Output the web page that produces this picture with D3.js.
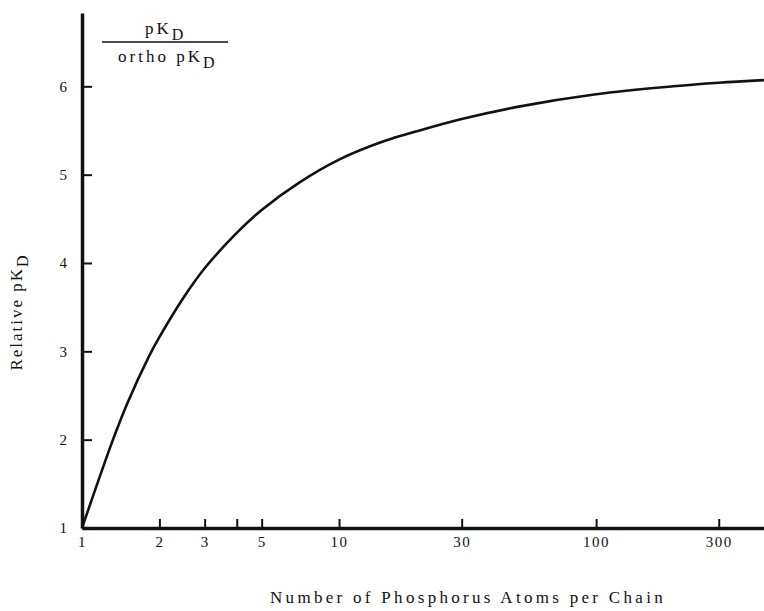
<!DOCTYPE html>
<html>
<head>
<meta charset="utf-8">
<script src="https://cdn.jsdelivr.net/npm/d3@7"></script>
<style>
  body { margin: 0; background: #fff; }
  svg { display: block; }
  text { font-family: "Liberation Serif", "DejaVu Serif", serif; fill: #111; }
</style>
</head>
<body>
<script>
// Data
const phosphorusAtoms = [1, 1.32, 1.5, 1.82, 2, 2.5, 3, 4, 5, 7, 10, 15, 20, 30, 50, 100, 200, 300, 450];
const relativePKD    = [1.0, 2.0, 2.41, 2.94, 3.16, 3.62, 3.94, 4.34, 4.6, 4.91, 5.17, 5.38, 5.49, 5.63, 5.77, 5.91, 6.0, 6.04, 6.07];
const xTickValues = [1, 2, 3, 4, 5, 10, 30, 100, 300];
const xTickLabels = ["1", "2", "3", "", "5", "10", "30", "100", "300"];
const yTickValues = [1, 2, 3, 4, 5, 6];

const W = 764, H = 611;
const svg = d3.select("body").append("svg").attr("width", W).attr("height", H);

const x = d3.scaleLog().domain([1, 450]).range([82, 764]);
const y = d3.scaleLinear().domain([1, 6.83]).range([528, 13]);

// X axis
const xAxis = d3.axisBottom(x)
  .tickValues(xTickValues)
  .tickFormat((d, i) => xTickLabels[i])
  .tickSize(-9).tickSizeOuter(0).tickPadding(8);
const gx = svg.append("g").attr("transform", `translate(0,${y(1)})`).call(xAxis);
gx.select(".domain").attr("stroke", "#111").attr("stroke-width", 3.5);
gx.selectAll(".tick line").attr("stroke", "#111").attr("stroke-width", 2);
gx.selectAll(".tick text").attr("font-size", 15).attr("letter-spacing", 1.5)
  .attr("font-family", "Liberation Serif").attr("fill", "#111");

// Y axis
const yAxis = d3.axisLeft(y)
  .tickValues(yTickValues)
  .tickFormat(d3.format("d"))
  .tickSize(-10).tickSizeOuter(0).tickPadding(15);
const gy = svg.append("g").attr("transform", `translate(${x(1)},0)`).call(yAxis);
gy.select(".domain").attr("stroke", "#111").attr("stroke-width", 3.5);
gy.selectAll(".tick line").attr("stroke", "#111").attr("stroke-width", 2);
gy.selectAll(".tick text").attr("font-size", 15).attr("font-family", "Liberation Serif").attr("fill", "#111");

// Curve
const line = d3.line()
  .x((d, i) => x(phosphorusAtoms[i]))
  .y(d => y(d))
  .curve(d3.curveCatmullRom.alpha(0.5));
svg.append("path")
  .datum(relativePKD)
  .attr("fill", "none")
  .attr("stroke", "#111")
  .attr("stroke-width", 2.6)
  .attr("d", line);

// Fraction label
const frac = svg.append("g");
const num = frac.append("text").attr("x", 145).attr("y", 34).attr("font-size", 17).attr("letter-spacing", 3);
num.append("tspan").text("pK");
num.append("tspan").attr("dy", 6).attr("font-size", 16).text("D");
frac.append("line").attr("x1", 102).attr("x2", 228).attr("y1", 42).attr("y2", 42)
  .attr("stroke", "#111").attr("stroke-width", 1.6);
const den = frac.append("text").attr("x", 118).attr("y", 62).attr("font-size", 17).attr("letter-spacing", 3);
den.append("tspan").text("ortho pK");
den.append("tspan").attr("dy", 6).attr("font-size", 16).text("D");

// Y title
const yt = svg.append("text")
  .attr("transform", "translate(22,312) rotate(-90)")
  .attr("text-anchor", "middle")
  .attr("font-size", 17).attr("letter-spacing", 2);
yt.append("tspan").text("Relative pK");
yt.append("tspan").attr("dy", 6).attr("font-size", 16).text("D");

// X title
svg.append("text")
  .attr("x", 468).attr("y", 603)
  .attr("text-anchor", "middle")
  .attr("font-size", 17).attr("letter-spacing", 3.3)
  .text("Number of Phosphorus Atoms per Chain");
</script>
</body>
</html>
